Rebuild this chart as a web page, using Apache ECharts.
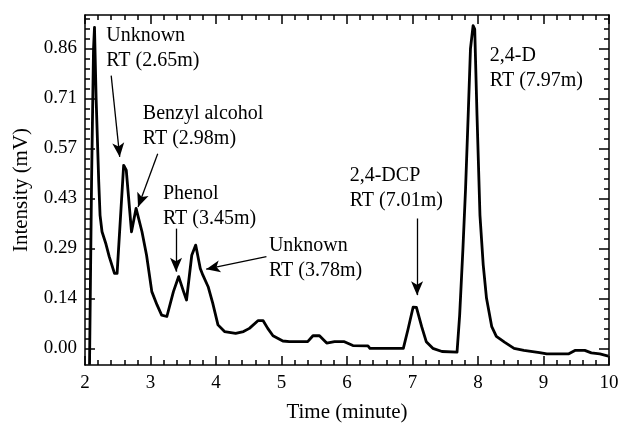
<!DOCTYPE html>
<html><head><meta charset="utf-8">
<script src="https://cdn.jsdelivr.net/npm/echarts@6/dist/echarts.min.js"></script>
<style>html,body{margin:0;padding:0;background:#fff}#c{width:620px;height:426px}</style>
</head><body><div id="c"></div>
<script>
// ---- data ----
const TIME = [2.069, 2.10, 2.13, 2.145, 2.17, 2.21, 2.23, 2.26, 2.32, 2.37, 2.45, 2.49, 2.59, 2.63, 2.71, 2.78, 2.87, 2.94, 3.02, 3.10, 3.17, 3.25, 3.35, 3.43, 3.505, 3.55, 3.63, 3.69, 3.76, 3.80, 3.88, 3.95, 4.03, 4.13, 4.30, 4.42, 4.51, 4.64, 4.72, 4.79, 4.87, 5.02, 5.12, 5.40, 5.48, 5.58, 5.69, 5.81, 5.96, 6.09, 6.32, 6.35, 6.86, 6.93, 7.01, 7.06, 7.14, 7.21, 7.31, 7.45, 7.68, 7.72, 7.77, 7.81, 7.85, 7.885, 7.925, 7.95, 7.985, 8.03, 8.08, 8.13, 8.21, 8.28, 8.41, 8.55, 8.70, 8.94, 9.05, 9.38, 9.48, 9.63, 9.73, 9.86, 9.99];
const INTENSITY = [-0.047, 0.475, 0.855, 0.917, 0.713, 0.475, 0.38, 0.333, 0.298, 0.262, 0.214, 0.214, 0.523, 0.509, 0.333, 0.40, 0.333, 0.266, 0.162, 0.124, 0.095, 0.091, 0.162, 0.205, 0.162, 0.138, 0.266, 0.295, 0.228, 0.209, 0.176, 0.129, 0.067, 0.048, 0.043, 0.048, 0.057, 0.079, 0.079, 0.057, 0.036, 0.021, 0.019, 0.019, 0.036, 0.036, 0.015, 0.019, 0.019, 0.008, 0.007, 0.0, 0.0, 0.053, 0.118, 0.117, 0.062, 0.019, 0.0, -0.009, -0.011, 0.095, 0.285, 0.456, 0.665, 0.856, 0.922, 0.912, 0.665, 0.38, 0.238, 0.143, 0.062, 0.034, 0.017, 0.0, -0.006, -0.012, -0.016, -0.016, -0.006, -0.006, -0.013, -0.016, -0.022];
const X_TICK_LABELS = ['2', '3', '4', '5', '6', '7', '8', '9', '10'];
const Y_TICK_VALUES = [0, 1/7, 2/7, 3/7, 4/7, 5/7, 6/7];
const Y_TICK_LABELS = ['0.00', '0.14', '0.29', '0.43', '0.57', '0.71', '0.86'];
const Y_MINOR_VALUES = [1/35, 2/35, 3/35, 4/35, 6/35, 7/35, 8/35, 9/35, 11/35, 12/35, 13/35, 14/35, 16/35, 17/35, 18/35, 19/35, 21/35, 22/35, 23/35, 24/35, 26/35, 27/35, 28/35, 29/35, 31/35, 32/35, 33/35];
const X_NAME = 'Time (minute)';
const Y_NAME = 'Intensity (mV)';
const PEAK_LABELS = ['Unknown\nRT (2.65m)', 'Benzyl alcohol\nRT (2.98m)', 'Phenol\nRT (3.45m)', 'Unknown\nRT (3.78m)', '2,4-DCP\nRT (7.01m)', '2,4-D\nRT (7.97m)'];

// ---- layout (annotation placement, in data coordinates) ----
const Y_MIN = -1/21, Y_MAX = 20/21;
const LABEL_ANCHORS = [[2.324, 0.928], [2.883, 0.705], [3.189, 0.477], [4.808, 0.330], [6.041, 0.530], [8.180, 0.871]];
const ARROWS = [
  [[2.40, 0.779], [2.53, 0.547]],
  [[3.11, 0.556], [2.81, 0.404]],
  [[3.39, 0.342], [3.39, 0.219]],
  [[4.77, 0.262], [3.85, 0.226]],
  [[7.07, 0.371], [7.07, 0.152]]
];

const FONT = '"Liberation Serif", "Times New Roman", serif';
const BLACK = '#000';
const LW = 1.5;

const chart = echarts.init(document.getElementById('c'), null, {renderer: 'canvas'});

function xAx(pos, showLabel) {
  return {
    type: 'value', position: pos, min: 2, max: 10, interval: 1,
    axisLine: {show: true, onZero: false, lineStyle: {color: BLACK, width: LW}},
    axisTick: {show: true, inside: true, length: 9, lineStyle: {color: BLACK, width: LW}},
    minorTick: {show: true, splitNumber: 5, length: 5, lineStyle: {color: BLACK, width: LW}},
    splitLine: {show: false}, minorSplitLine: {show: false},
    axisLabel: {show: showLabel, color: BLACK, fontSize: 19, fontFamily: FONT, margin: 9,
      formatter: v => X_TICK_LABELS[Math.round(v) - 2]},
    name: showLabel ? X_NAME : '', nameLocation: 'middle', nameGap: 37,
    nameTextStyle: {color: BLACK, fontSize: 21, fontFamily: FONT}
  };
}
function yAx(pos, major, withLabel) {
  const vals = major ? Y_TICK_VALUES : Y_MINOR_VALUES;
  return {
    type: 'value', position: pos, min: Y_MIN, max: Y_MAX,
    axisLine: {show: major, onZero: false, lineStyle: {color: BLACK, width: LW}},
    axisTick: {show: true, inside: true, length: major ? 10 : 5, customValues: vals,
      lineStyle: {color: BLACK, width: LW}},
    splitLine: {show: false},
    axisLabel: {show: withLabel, customValues: Y_TICK_VALUES, color: BLACK, fontSize: 19, fontFamily: FONT, margin: 8,
      formatter: v => {
        const i = Y_TICK_VALUES.findIndex(t => Math.abs(t - v) < 1e-6);
        return i >= 0 ? Y_TICK_LABELS[i] : '';
      }},
    name: withLabel ? Y_NAME : '', nameLocation: 'middle', nameGap: 53,
    nameTextStyle: {color: BLACK, fontSize: 21, fontFamily: FONT}
  };
}

chart.setOption({
  animation: false,
  backgroundColor: '#fff',
  grid: {left: 85, right: 11, top: 15, bottom: 61, outerBoundsMode: 'none', containLabel: false},
  xAxis: [xAx('bottom', true), xAx('top', false)],
  yAxis: [yAx('left', true, true), yAx('left', false, false), yAx('right', true, false), yAx('right', false, false)],
  series: [{
    type: 'line', xAxisIndex: 0, yAxisIndex: 0,
    data: TIME.map((t, i) => [t, INTENSITY[i]]),
    showSymbol: false, symbol: 'none', silent: true, clip: true,
    lineStyle: {color: BLACK, width: 2.8, join: 'round'},
    markLine: {
      silent: true, animation: false,
      symbol: ['none', 'arrow'], symbolSize: [9, 14],
      lineStyle: {color: BLACK, width: 1.3, type: 'solid'},
      label: {show: false}, emphasis: {disabled: true},
      data: ARROWS.map(a => [{coord: a[0]}, {coord: a[1]}])
    }
  }]
});

const graphics = PEAK_LABELS.map((txt, i) => {
  const p = chart.convertToPixel({xAxisIndex: 0, yAxisIndex: 0}, LABEL_ANCHORS[i]);
  return {
    type: 'text', x: p[0], y: p[1], silent: true,
    style: {text: txt, fill: BLACK, font: '20px ' + FONT, lineHeight: 25, align: 'left', verticalAlign: 'top'}
  };
});
chart.setOption({graphic: graphics});
</script>
</body></html>
